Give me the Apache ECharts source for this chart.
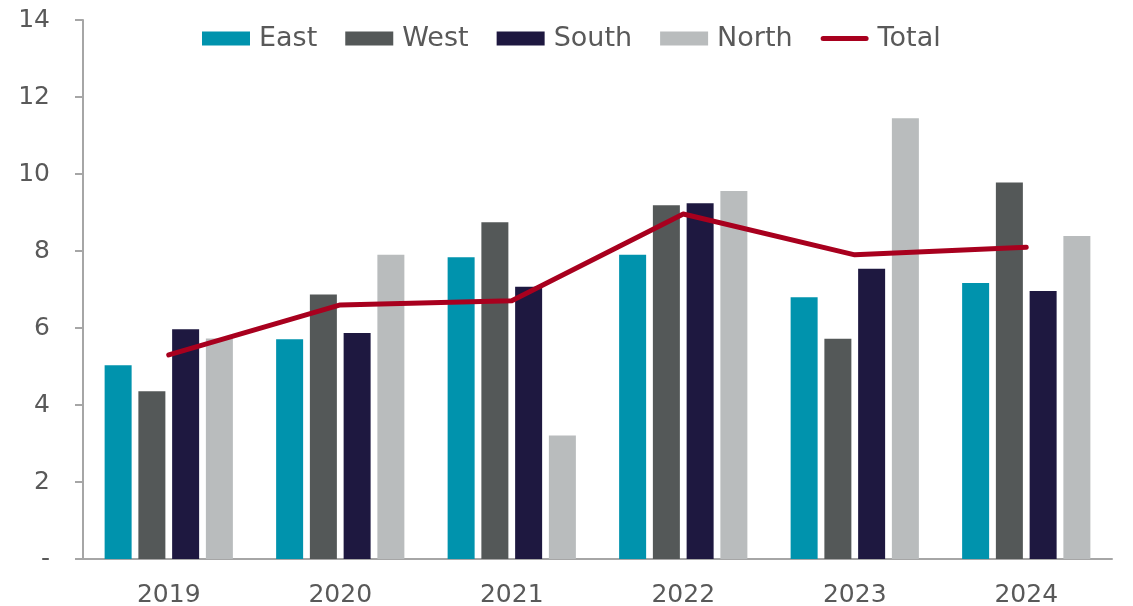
<!DOCTYPE html>
<html>
<head>
<meta charset="utf-8">
<script src="https://cdn.jsdelivr.net/npm/echarts@6/dist/echarts.min.js"></script>
<style>
  html, body { margin: 0; padding: 0; background: #fff; }
  #chart { width: 1133px; height: 606px; }
</style>
</head>
<body>
<div id="chart"></div>
<script>
// Yearly values by region, with the overall total drawn as a line
const years = ['2019', '2020', '2021', '2022', '2023', '2024'];
const east  = [5.03, 5.71, 7.84, 7.90, 6.80, 7.17];
const west  = [4.36, 6.87, 8.75, 9.19, 5.72, 9.78];
const south = [5.97, 5.87, 7.07, 9.24, 7.54, 6.96];
const north = [5.73, 7.90, 3.21, 9.56, 11.45, 8.39];
const total = [5.30, 6.60, 6.71, 8.96, 7.90, 8.10];

const FONT = 'DejaVu Sans';
const TEXT = '#595959';
const AXIS = '#A6A6A6';
const RED = '#A8001E';

// Legend key for the line: a round-capped stroke centred in a 48x14 box
// (the two tiny corner squares only fix the path's bounding box).
const LINE_KEY = 'path://M0,0h0.01v0.01h-0.01Z' +
  'M2.5,4.5H45.5A2.5,2.5 0 0 1 45.5,9.5H2.5A2.5,2.5 0 0 1 2.5,4.5Z' +
  'M47.99,13.99h0.01v0.01h-0.01Z';

const chart = echarts.init(document.getElementById('chart'), null, { renderer: 'canvas' });

function bar(name, data, color) {
  return {
    name, type: 'bar', data,
    barWidth: 27, barGap: '25%',
    itemStyle: { color },
    z: 2
  };
}

chart.setOption({
  animation: false,
  textStyle: { fontFamily: FONT },
  grid: { left: 83, right: 21, top: 20, bottom: 47, containLabel: false, outerBoundsMode: 'none' },
  legend: {
    left: 202, top: 25, padding: 0,
    itemWidth: 48, itemHeight: 14, itemGap: 28,
    icon: 'rect',
    textStyle: { fontFamily: FONT, fontSize: 27, color: TEXT, padding: [0, 0, 0, 4] },
    data: ['East', 'West', 'South', 'North', { name: 'Total', icon: LINE_KEY }]
  },
  xAxis: {
    type: 'category', data: years,
    axisLine: { lineStyle: { color: AXIS, width: 2 } },
    axisTick: { show: false },
    axisLabel: { color: TEXT, fontSize: 25, fontFamily: FONT, margin: 24 }
  },
  yAxis: {
    type: 'value', min: 0, max: 14, interval: 2,
    axisLine: { show: true, lineStyle: { color: AXIS, width: 2 } },
    axisTick: { show: true, length: 8, lineStyle: { color: AXIS, width: 2 } },
    splitLine: { show: false },
    axisLabel: {
      color: TEXT, fontSize: 25, fontFamily: FONT, margin: 33,
      align: 'right', alignMinLabel: 'right', alignMaxLabel: 'right',
      formatter: v => (v === 0 ? '-' : String(v))
    }
  },
  series: [
    bar('East', east, '#0093AD'),
    bar('West', west, '#545858'),
    bar('South', south, '#1E1840'),
    bar('North', north, '#B9BCBD'),
    {
      name: 'Total', type: 'line', data: total,
      symbol: 'none',
      lineStyle: { color: RED, width: 5, cap: 'round', join: 'round' },
      itemStyle: { color: RED },
      z: 5
    }
  ]
});
</script>
</body>
</html>
